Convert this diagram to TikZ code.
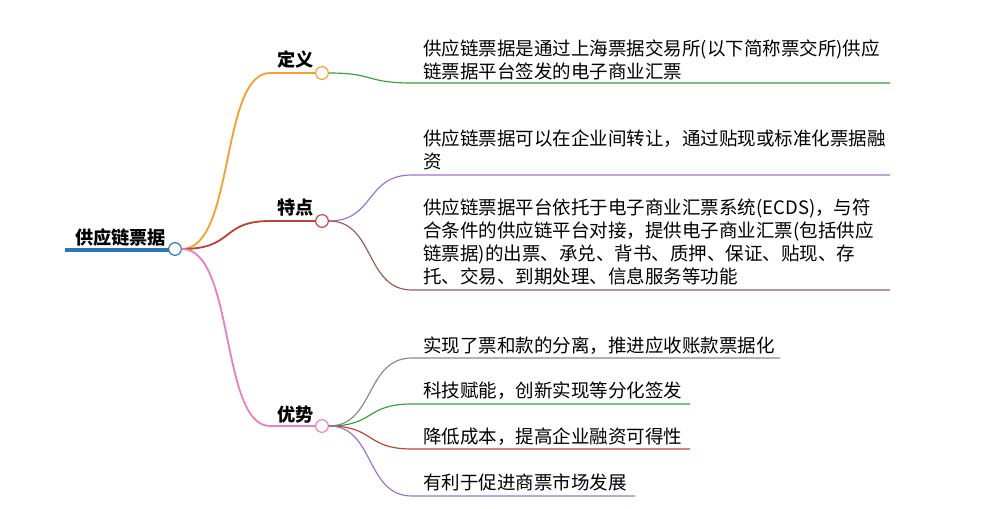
\documentclass[tikz,border=0pt]{standalone}
\usepackage{fontspec}
\setmainfont{Noto Sans CJK SC}
\begin{document}
\begin{tikzpicture}[x=0.03cm,y=-0.03cm,
  txt/.style={font=\fontsize{15.8pt}{19.6pt}\selectfont,anchor=north west,inner sep=0pt,align=left},
  hd/.style={font=\fontsize{15.5pt}{16pt}\selectfont\bfseries,anchor=base west,inner sep=0pt},
  dot/.style={circle,draw,fill=white,minimum size=0.38cm,inner sep=0pt,line width=1pt},
  br/.style={line width=1.6pt},
  ch/.style={line width=1pt}]
\useasboundingbox (0,0) rectangle (1000,509);
\definecolor{cblue}{HTML}{2E75B6}
\definecolor{corange}{HTML}{F0A23A}
\definecolor{cred}{HTML}{B8463C}
\definecolor{cpink}{HTML}{E184C2}
\definecolor{cgreen}{HTML}{3E9B3E}
\definecolor{cpurple}{HTML}{9C74C4}
\definecolor{cbrown}{HTML}{8E5F55}
\definecolor{cgray}{HTML}{8A8A8A}
% root
\node[hd] (root) at (75,245) {供应链票据};
\draw[cblue,line width=3pt] (65,250) -- (169,250);
\node[dot,draw=cblue] (rc) at (175,249) {};
% level 1
\node[hd] (d1) at (277,67) {定义};
\node[hd] (d2) at (277,215) {特点};
\node[hd] (d3) at (277,421) {优势};
\node[dot,draw=corange] (c1) at (322,73) {};
\node[dot,draw=cred] (c2) at (322,221) {};
\node[dot,draw=cpink] (c3) at (322,426) {};
\draw[corange,br] (rc.east) .. controls (235,249) and (220,73) .. (270,73) -- (c1.west);
\draw[cred,br] (rc.east) .. controls (235,249) and (220,221) .. (270,221) -- (c2.west);
\draw[cpink,br] (rc.east) .. controls (235,249) and (220,426) .. (270,426) -- (c3.west);
% children
\coordinate (e1) at (890,83);
\draw[cgreen,ch] (c1.east) .. controls (375,73) and (365,83) .. (412,83) -- (e1);
\node[txt] (t1) at (423,40) {供应链票据是通过上海票据交易所(以下简称票交所)供应\\链票据平台签发的电子商业汇票};
\coordinate (e2) at (890,175);
\draw[cpurple,ch] (c2.east) .. controls (375,221) and (365,175) .. (412,175) -- (e2);
\node[txt] (t2) at (423,130) {供应链票据可以在企业间转让，通过贴现或标准化票据融\\资};
\coordinate (e3) at (890,290);
\draw[cbrown,ch] (c2.east) .. controls (375,221) and (365,290) .. (412,290) -- (e3);
\node[txt] (t3) at (423,199) {供应链票据平台依托于电子商业汇票系统(ECDS)，与符\\合条件的供应链平台对接，提供电子商业汇票(包括供应\\链票据)的出票、承兑、背书、质押、保证、贴现、存\\托、交易、到期处理、信息服务等功能};
\coordinate (e4) at (780,358);
\draw[cgray,ch] (c3.east) .. controls (375,426) and (365,358) .. (412,358) -- (e4);
\node[txt] (t4) at (423,337) {实现了票和款的分离，推进应收账款票据化};
\coordinate (e5) at (690,404);
\draw[cgreen,ch] (c3.east) .. controls (375,426) and (365,404) .. (412,404) -- (e5);
\node[txt] (t5) at (423,382) {科技赋能，创新实现等分化签发};
\coordinate (e6) at (690,449);
\draw[cred,ch] (c3.east) .. controls (375,426) and (365,449) .. (412,449) -- (e6);
\node[txt] (t6) at (423,428) {降低成本，提高企业融资可得性};
\coordinate (e7) at (635,496);
\draw[cpurple,ch] (c3.east) .. controls (375,426) and (365,496) .. (412,496) -- (e7);
\node[txt] (t7) at (423,474) {有利于促进商票市场发展};
\end{tikzpicture}
\end{document}
